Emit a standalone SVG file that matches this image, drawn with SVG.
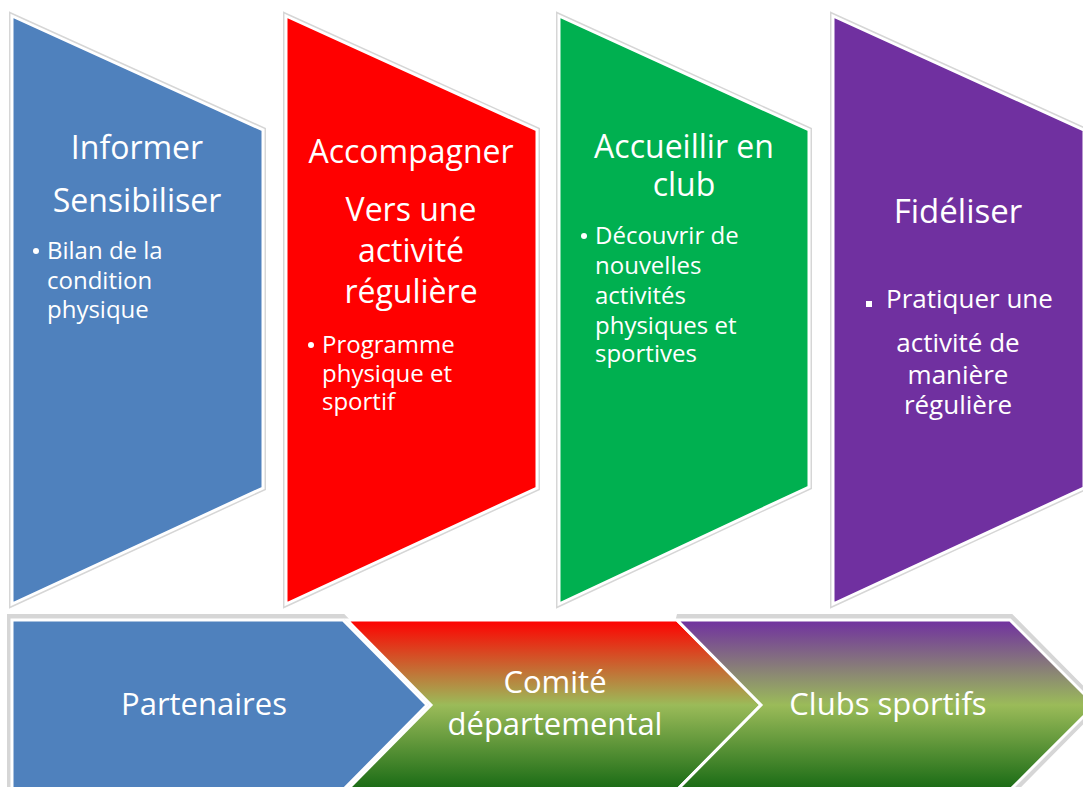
<svg xmlns="http://www.w3.org/2000/svg" width="1083" height="787" viewBox="0 0 1083 787">
<defs>
<linearGradient id="gRed" gradientUnits="userSpaceOnUse" x1="0" y1="620" x2="0" y2="790">
<stop offset="0" stop-color="#FF0000"/>
<stop offset="0.5" stop-color="#9BBB59"/>
<stop offset="1" stop-color="#186A14"/>
</linearGradient>
<linearGradient id="gPurple" gradientUnits="userSpaceOnUse" x1="0" y1="620" x2="0" y2="790">
<stop offset="0" stop-color="#7030A0"/>
<stop offset="0.5" stop-color="#9BBB59"/>
<stop offset="1" stop-color="#186A14"/>
</linearGradient>
<style>
.halo{fill:none;stroke:#d6d6d6;stroke-width:6;stroke-linejoin:miter}
.shape{stroke:#ffffff;stroke-width:3;stroke-linejoin:miter}
.t{font-family:"Open Sans","Liberation Sans",sans-serif;fill:#ffffff}
.title{font-size:32px;text-anchor:middle}
.bul{font-size:24px}
.big{font-size:31px;text-anchor:middle}
.dot{fill:#ffffff}
</style>
</defs>
<rect width="1083" height="787" fill="#ffffff"/>

<g id="node-informer">
<polygon class="halo" points="12,16 263,130 263,488 12,604"/>
<polygon class="shape" fill="#4F81BD" points="12,16 263,130 263,488 12,604"/>
<text class="t title" x="137" y="159">Informer</text>
<text class="t title" x="137" y="212">Sensibiliser</text>
<circle class="dot" cx="36" cy="251" r="3"/>
<text class="t bul" x="47" y="259">Bilan de la</text>
<text class="t bul" x="47" y="289">condition</text>
<text class="t bul" x="47" y="318">physique</text>
</g>

<g id="node-accompagner">
<polygon class="halo" points="286,16 537,130 537,488 286,604"/>
<polygon class="shape" fill="#FF0000" points="286,16 537,130 537,488 286,604"/>
<text class="t title" x="411" y="163">Accompagner</text>
<text class="t title" x="411" y="221">Vers une</text>
<text class="t title" x="411" y="262">activité</text>
<text class="t title" x="411" y="303">régulière</text>
<circle class="dot" cx="311" cy="345" r="3"/>
<text class="t bul" x="322" y="353">Programme</text>
<text class="t bul" x="322" y="382">physique et</text>
<text class="t bul" x="322" y="410">sportif</text>
</g>

<g id="node-accueillir">
<polygon class="halo" points="559,16 809,130 809,487 559,604"/>
<polygon class="shape" fill="#00B050" points="559,16 809,130 809,487 559,604"/>
<text class="t title" x="684" y="158">Accueillir en</text>
<text class="t title" x="684" y="196">club</text>
<circle class="dot" cx="584" cy="236" r="3"/>
<text class="t bul" x="595" y="244">Découvrir  de</text>
<text class="t bul" x="595" y="274">nouvelles</text>
<text class="t bul" x="595" y="304">activités</text>
<text class="t bul" x="595" y="334">physiques et</text>
<text class="t bul" x="595" y="362">sportives</text>
</g>

<g id="node-fideliser">
<polygon class="halo" points="833,16 1084,130 1084,488 833,604"/>
<polygon class="shape" fill="#7030A0" points="833,16 1084,130 1084,488 833,604"/>
<text class="t title" x="958" y="223" style="font-size:33px">Fidéliser</text>
<rect class="dot" x="866" y="301" width="6" height="6"/>
<text class="t" x="886" y="308" style="font-size:26px">Pratiquer une</text>
<text class="t" x="958" y="352" style="font-size:26px;text-anchor:middle">activité de</text>
<text class="t" x="958" y="384" style="font-size:26px;text-anchor:middle">manière</text>
<text class="t" x="958" y="414" style="font-size:26px;text-anchor:middle">régulière</text>
</g>

<g id="node-partenaires">
<polygon class="halo" points="10,617 343,617 429,705 343,793 10,793"/>
<polygon class="shape" fill="#4F81BD" points="12,620 343,620 427,705 343,790 12,790"/>
<text class="t big" x="204" y="715">Partenaires</text>
</g>

<g id="node-comite">
<polygon class="shape" fill="url(#gRed)" points="347,620 677,620 761,705 677,790 347,790 431,705"/>
<text class="t big" x="555" y="693">Comité</text>
<text class="t big" x="555" y="735">départemental</text>
</g>

<g id="node-clubs">
<polygon class="halo" points="677,617 1011,617 1098,705 1011,793"/>
<polygon class="shape" fill="url(#gPurple)" points="677,620 1010,620 1095,705 1010,790 677,790 761,705"/>
<text class="t big" x="888" y="715">Clubs sportifs</text>
</g>

<g id="connectors"/>
</svg>
